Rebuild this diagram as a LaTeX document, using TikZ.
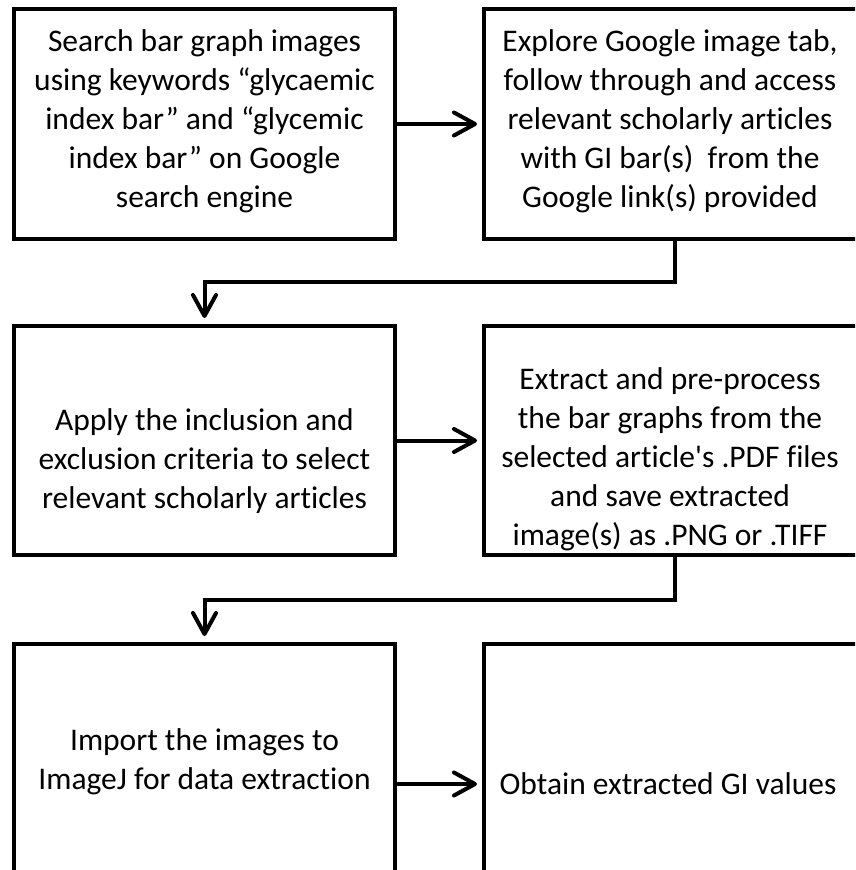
\documentclass[tikz,border=0pt]{standalone}
\usepackage{fontspec}
\setmainfont{Carlito}[Ligatures={NoCommon}]
\usetikzlibrary{arrows.meta}
\begin{document}
\begin{tikzpicture}[x=1pt,y=-1pt,
  box/.style={draw=black,line width=4pt,minimum width=381pt,inner sep=0pt,outer sep=0pt},
  txt/.style={align=center,inner sep=0pt,font=\fontsize{31.5}{39}\selectfont},
  arr/.style={line width=4pt,-{Straight Barb[length=21pt,width=23pt,line width=4pt,round]}},
  elbow/.style={arr,rounded corners=0pt}]
\useasboundingbox (0,0) rectangle (855,870);
\begin{scope}
\clip (0,0) rectangle (855,870);
\node[box,minimum height=230pt] (b1) at (204.5,124) {};
\node[box,minimum height=230pt] (b2) at (674.5,124) {};
\node[box,minimum height=229pt] (b3) at (204.5,440.5) {};
\node[box,minimum height=229pt] (b4) at (674.5,440.5) {};
\node[box,minimum height=280pt] (b5) at (204.5,784) {};
\node[box,minimum height=280pt] (b6) at (674.5,784) {};
\end{scope}

\node[txt] (t1) at (204.5,121) {Search bar graph images\\using keywords “glycaemic\\index bar” and “glycemic\\index bar” on Google\\search engine};
\node[txt] (t2) at (670,121) {Explore Google image tab,\\follow through and access\\relevant scholarly articles\\with GI bar(s)\ \ from the\\Google link(s) provided};
\node[txt] (t3) at (204.5,461) {Apply the inclusion and\\exclusion criteria to select\\relevant scholarly articles};
\node[txt] (t4) at (670,459) {Extract and pre-process\\the bar graphs from the\\selected article\textquotesingle s .PDF files\\and save extracted\\image(s) as .PNG or .TIFF};
\node[txt] (t5) at (204.5,762) {Import the images to\\ImageJ for data extraction};
\node[txt] (t6) at (668,784) {Obtain extracted GI values};

\coordinate (c1) at (0,282);
\coordinate (c2) at (0,600);

\draw[arr,shorten >=7pt] (b1.east) -- (b2.west |- b1.east);
\draw[arr,shorten >=7pt] (b3.east) -- (b4.west |- b3.east);
\draw[arr,shorten >=7pt] (b5.east) -- (b6.west |- b5.east);
\draw[elbow,shorten >=8pt] (b2.south) -- (b2.south |- c1) -| (b3.north);
\draw[elbow,shorten >=8pt] (b4.south) -- (b4.south |- c2) -| (b5.north);
\end{tikzpicture}
\end{document}
